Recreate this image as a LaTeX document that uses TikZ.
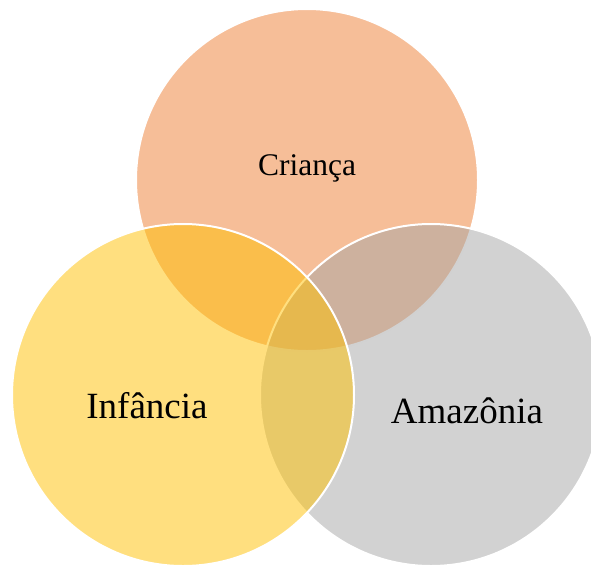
\documentclass[tikz,border=0pt]{standalone}
\usepackage{fontspec}
\setmainfont{Liberation Serif}
\usepackage{tikz}
\usetikzlibrary{positioning}
\definecolor{criancaorange}{RGB}{237,125,49}
\definecolor{amazoniagrey}{RGB}{165,165,165}
\definecolor{infanciayellow}{RGB}{255,192,0}

\begin{document}
\begin{tikzpicture}[
        x=1pt, y=-1pt,
        set/.style={circle, draw=white, line width=2pt, fill=#1, fill opacity=0.5, inner sep=0pt, minimum size=342pt},
        setlabel/.style={anchor=base, text=black, font=\fontsize{37}{40}\selectfont},
    ]
        \useasboundingbox (0,0) rectangle (591,566);
        \clip (0,0) rectangle (591,566);
        % the three sets
        \node[set=criancaorange] (crianca) at (307,180) {};
        \node[set=amazoniagrey] (amazonia) at (431,395) {};
        \node[set=infanciayellow] (infancia) at (183,395) {};
        % labels
        \node[setlabel, font=\fontsize{31.5}{34}\selectfont] (crianca-label) at (307,175) {Criança};
        \node[setlabel] (infancia-label) at (147,418) {Infância};
        \node[setlabel] (amazonia-label) at (467,423) {Amazônia};
    \end{tikzpicture}
\end{document}
